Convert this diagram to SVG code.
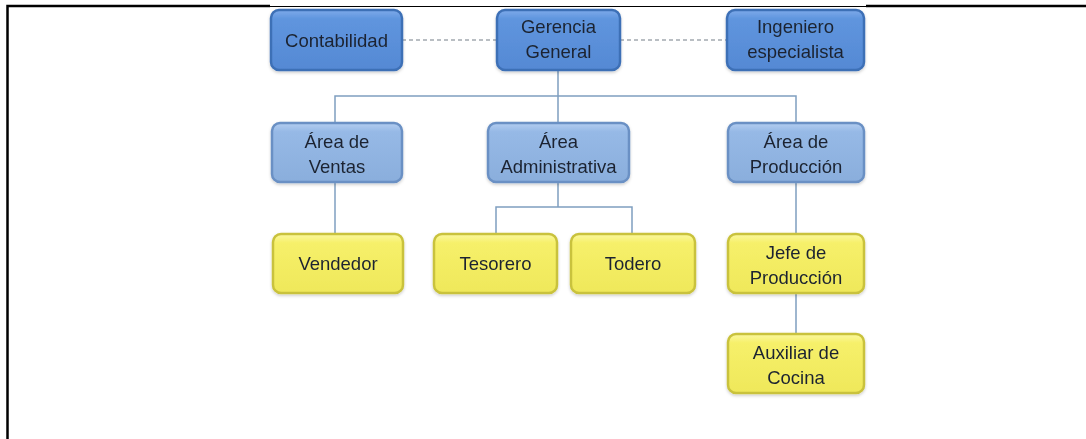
<svg xmlns="http://www.w3.org/2000/svg" width="1086" height="439" viewBox="0 0 1086 439">
<defs>
<linearGradient id="gBlue" x1="0" y1="0" x2="0" y2="1">
<stop offset="0" stop-color="#7eaaea"/>
<stop offset="0.15" stop-color="#5f95de"/>
<stop offset="1" stop-color="#5589d4"/>
</linearGradient>
<linearGradient id="gLight" x1="0" y1="0" x2="0" y2="1">
<stop offset="0" stop-color="#b3cdf0"/>
<stop offset="0.15" stop-color="#96b9e6"/>
<stop offset="1" stop-color="#8aaedc"/>
</linearGradient>
<linearGradient id="gYellow" x1="0" y1="0" x2="0" y2="1">
<stop offset="0" stop-color="#fbf8a0"/>
<stop offset="0.15" stop-color="#f6f06a"/>
<stop offset="1" stop-color="#efe85a"/>
</linearGradient>
<filter id="sh" x="-10%" y="-10%" width="120%" height="130%">
<feDropShadow dx="0" dy="1.5" stdDeviation="1.5" flood-color="#000" flood-opacity="0.2"/>
</filter>
</defs>
<style>
.blue{fill:url(#gBlue);stroke:#3d6fb6;stroke-width:2.5}
.light{fill:url(#gLight);stroke:#6a90c4;stroke-width:2.5}
.yel{fill:url(#gYellow);stroke:#c9c23c;stroke-width:2.5}
.box{filter:url(#sh)}
text{font-family:"Liberation Sans",Arial,sans-serif;font-size:18.5px;fill:#1c2430;text-anchor:middle}
.con{fill:none;stroke:#7f9fc0;stroke-width:1.5}
.dash{fill:none;stroke:#a3a9b0;stroke-width:1.5;stroke-dasharray:4 3}
.frame{stroke:#000;fill:none}
</style>
<rect width="1086" height="439" fill="#fff"/>
<g id="frame">
<path class="frame" d="M7.5 439V6H270" stroke-width="2.5"/>
<path class="frame" d="M270 6.5H866" stroke-width="1.2"/>
<path class="frame" d="M866 6H1086" stroke-width="2.5"/>
</g>
<g id="connectors">
<path class="dash" d="M402 40H497M620 40H727"/>
<path class="con" d="M558 70V96M335 122V96H796V122M558 96V122"/>
<path class="con" d="M335 182V234"/>
<path class="con" d="M558 182V207M496 234V207H632V234"/>
<path class="con" d="M796 182V234M796 293V334"/>
</g>
<g id="contabilidad" class="box">
<rect class="blue" x="271" y="10" width="131" height="60" rx="8"/>
<text x="336.5" y="46.5">Contabilidad</text>
</g>
<g id="gerencia" class="box">
<rect class="blue" x="497" y="10" width="123" height="60" rx="8"/>
<text x="558.5" y="33">Gerencia</text>
<text x="558.5" y="58">General</text>
</g>
<g id="ingeniero" class="box">
<rect class="blue" x="727" y="10" width="137" height="60" rx="8"/>
<text x="795.5" y="33">Ingeniero</text>
<text x="795.5" y="58">especialista</text>
</g>
<g id="ventas" class="box">
<rect class="light" x="272" y="123" width="130" height="59" rx="8"/>
<text x="337" y="147.5">Área de</text>
<text x="337" y="172.5">Ventas</text>
</g>
<g id="administrativa" class="box">
<rect class="light" x="488" y="123" width="141" height="59" rx="8"/>
<text x="558.5" y="147.5">Área</text>
<text x="558.5" y="172.5">Administrativa</text>
</g>
<g id="produccion" class="box">
<rect class="light" x="728" y="123" width="136" height="59" rx="8"/>
<text x="796" y="147.5">Área de</text>
<text x="796" y="172.5">Producción</text>
</g>
<g id="vendedor" class="box">
<rect class="yel" x="273" y="234" width="130" height="59" rx="8"/>
<text x="338" y="270">Vendedor</text>
</g>
<g id="tesorero" class="box">
<rect class="yel" x="434" y="234" width="123" height="59" rx="8"/>
<text x="495.5" y="270">Tesorero</text>
</g>
<g id="todero" class="box">
<rect class="yel" x="571" y="234" width="124" height="59" rx="8"/>
<text x="633" y="270">Todero</text>
</g>
<g id="jefe" class="box">
<rect class="yel" x="728" y="234" width="136" height="59" rx="8"/>
<text x="796" y="258.5">Jefe de</text>
<text x="796" y="283.5">Producción</text>
</g>
<g id="auxiliar" class="box">
<rect class="yel" x="728" y="334" width="136" height="59" rx="8"/>
<text x="796" y="358.5">Auxiliar de</text>
<text x="796" y="383.5">Cocina</text>
</g>
</svg>
